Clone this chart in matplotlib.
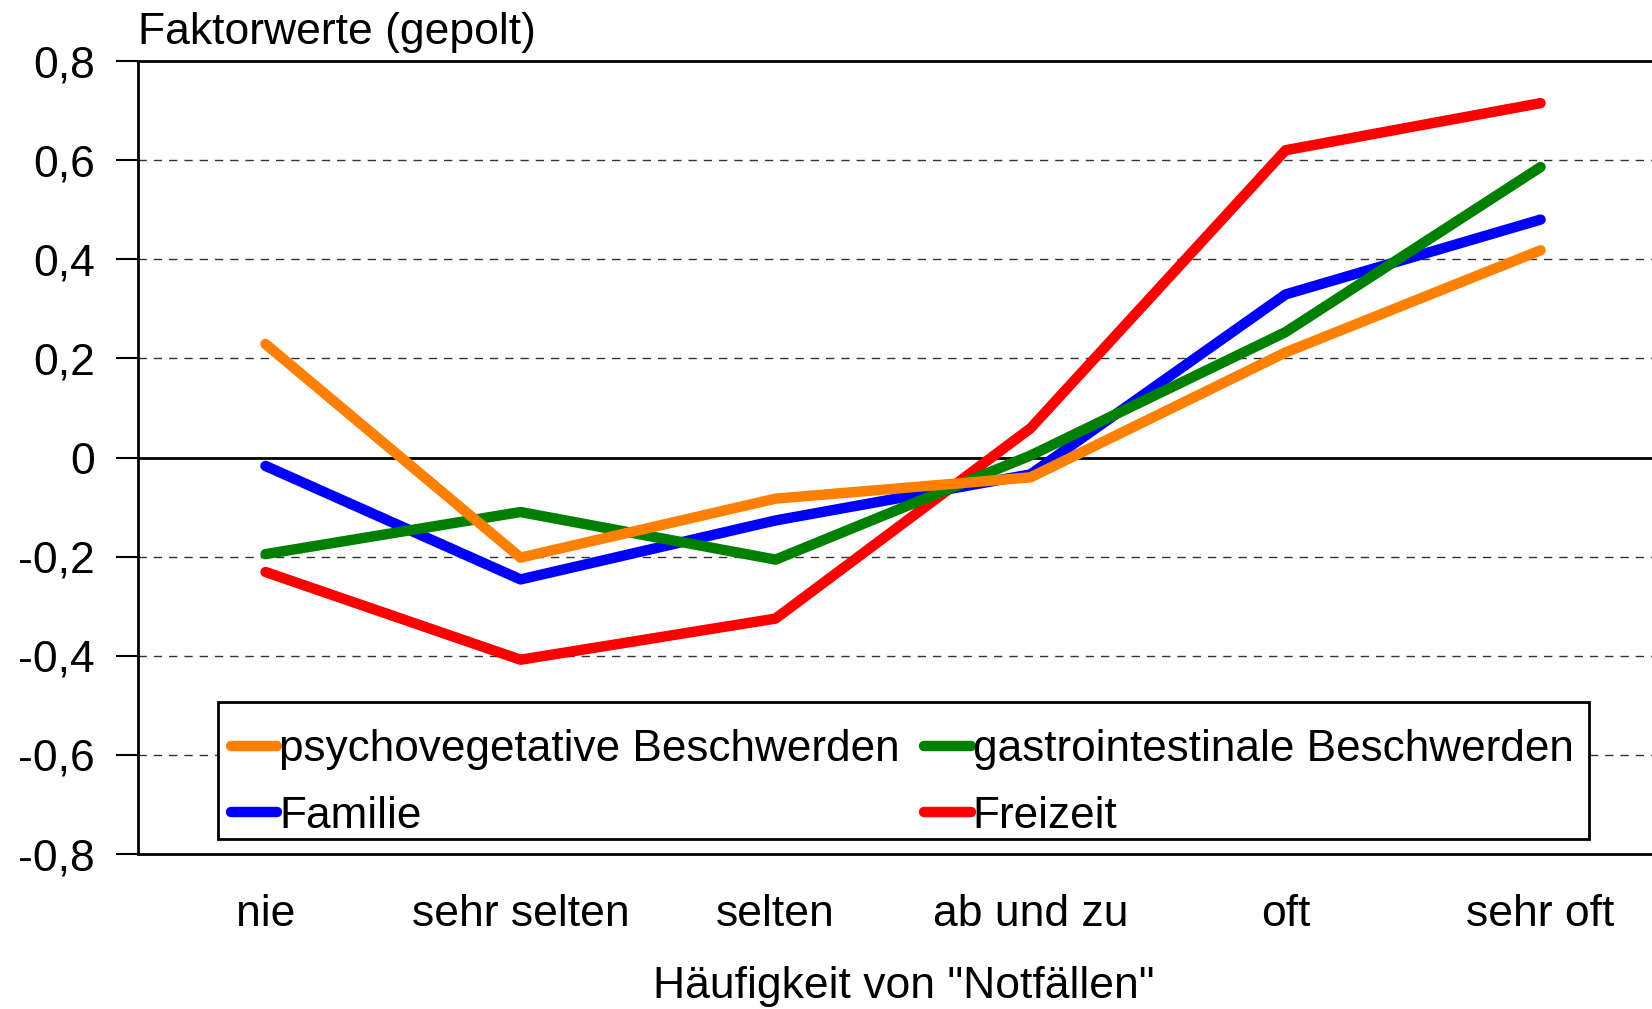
import numpy as np
import matplotlib.pyplot as plt
from matplotlib.ticker import FuncFormatter
from matplotlib.patches import Rectangle

# Kategorien und Faktorwerte
kategorien = ["nie", "sehr selten", "selten", "ab und zu", "oft", "sehr oft"]
psycho = [0.229, -0.202, -0.083, -0.040, 0.212, 0.418]
familie = [-0.017, -0.246, -0.127, -0.034, 0.329, 0.480]
gastro = [-0.195, -0.110, -0.206, 0.004, 0.253, 0.586]
freizeit = [-0.231, -0.408, -0.325, 0.059, 0.620, 0.715]

plt.rcParams['font.family'] = ['Liberation Sans', 'DejaVu Sans']
fs = 32

fig = plt.figure(figsize=(16.52, 10.09), dpi=100)
ax = fig.add_axes([138/1652, 1 - 854/1009, 1 - 138/1652, (854 - 61)/1009])

x = np.arange(len(kategorien))
lw = 7.5
# zorder wie im Original: rot unten, orange oben
l_fz, = ax.plot(x, freizeit, color="#ff0000", lw=lw, solid_capstyle="round", label="Freizeit", zorder=3)
l_fa, = ax.plot(x, familie, color="#0000ff", lw=lw, solid_capstyle="round", label="Familie", zorder=4)
l_ga, = ax.plot(x, gastro, color="#008000", lw=lw, solid_capstyle="round", label="gastrointestinale Beschwerden", zorder=5)
l_ps, = ax.plot(x, psycho, color="#ff8000", lw=lw, solid_capstyle="round", label="psychovegetative Beschwerden", zorder=6)

ax.set_xlim(-0.5, 5.437)
ax.set_ylim(-0.8, 0.8)
ax.set_yticks(np.arange(-0.8, 0.81, 0.2))
ax.yaxis.set_major_formatter(FuncFormatter(lambda v, p: "0" if abs(v) < 1e-9 else f"{v:.1f}".replace(".", ",")))
for yv in [-0.6, -0.4, -0.2, 0.2, 0.4, 0.6]:
    ax.axhline(yv, color="#333333", lw=1, ls=(0, (6, 5)), zorder=1)
ax.axhline(0, color="black", lw=2, zorder=2)

ax.set_xticks(x)
ax.set_xticklabels(kategorien)
ax.tick_params(axis="x", length=0, pad=29, labelsize=fs)
ax.tick_params(axis="y", length=16, width=1.5, pad=15, labelsize=fs)
ax.spines["right"].set_visible(False)
for s in ["left", "top", "bottom"]:
    ax.spines[s].set_linewidth(2)

ax.set_xlabel('Häufigkeit von "Notfällen"', fontsize=fs, labelpad=22)
ax.xaxis.label.set_x(0.506)
ax.text(0, 1.01, "Faktorwerte (gepolt)", transform=ax.transAxes, fontsize=fs, ha="left", va="bottom")

# Legende: Zeile 1 psycho / gastro, Zeile 2 Familie / Freizeit
W, H = 1514, 793  # Achsengroesse in Pixel
leg = ax.legend([l_ps, l_fa, l_ga, l_fz],
                ["psychovegetative Beschwerden", "Familie", "gastrointestinale Beschwerden", "Freizeit"],
                ncol=2, loc="lower left", bbox_to_anchor=(0.0528 + 4/W, 0.019 - 6.5/H),
                borderaxespad=0, fontsize=31.8, handlelength=1.05, handletextpad=0.05,
                frameon=False, labelspacing=0.57, borderpad=0.2, columnspacing=0.55)
leg.set_zorder(10)

# Rahmen (weiss gefuellt) um die Legende, oben etwas mehr Platz wie im Original
fig.canvas.draw()
bb = leg.get_window_extent().transformed(ax.transAxes.inverted())
rahmen = Rectangle((bb.x0 - 4/W, bb.y0 + 6.5/H), bb.width + 10/W, bb.height + 12/H,
                   transform=ax.transAxes, fc="white", ec="black", lw=2, zorder=9)
ax.add_patch(rahmen)

fig.savefig("out.png", dpi=100)
